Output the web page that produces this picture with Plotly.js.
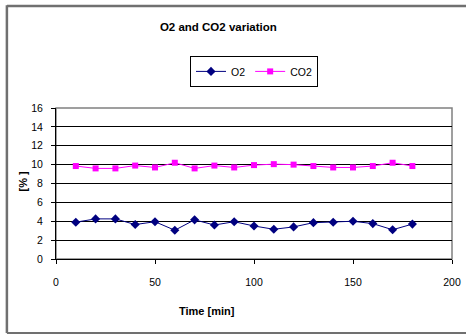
<!DOCTYPE html>
<html>
<head>
<meta charset="utf-8">
<script src="https://cdn.plot.ly/plotly-3.0.1.min.js"></script>
<style>html,body{margin:0;padding:0;background:#fff;}#chart{width:466px;height:335px;}</style>
</head>
<body>
<div id="chart"></div>
<script>
const timeMin = [10, 20, 30, 40, 50, 60, 70, 80, 90, 100, 110, 120, 130, 140, 150, 160, 170, 180];
const o2 = [3.9, 4.25, 4.25, 3.65, 3.95, 3.05, 4.15, 3.6, 3.95, 3.5, 3.15, 3.4, 3.85, 3.9, 4.0, 3.75, 3.1, 3.7];
const co2 = [9.85, 9.6, 9.6, 9.9, 9.7, 10.2, 9.6, 9.9, 9.7, 9.95, 10.05, 10.0, 9.85, 9.7, 9.7, 9.85, 10.2, 9.85];
const seriesNames = ['O2', 'CO2'];
const xTicks = [0, 50, 100, 150, 200];
const yTicks = [0, 2, 4, 6, 8, 10, 12, 14, 16];

const font = 'Liberation Sans, Arial, sans-serif';
const narrow = 'Liberation Sans Narrow, Arial Narrow, Liberation Sans, sans-serif';
const traces = [
  {x: timeMin, y: o2, name: seriesNames[0], type: 'scatter', mode: 'lines+markers',
   line: {color: '#000080', width: 1}, marker: {symbol: 'diamond', size: 7, color: '#000080'}},
  {x: timeMin, y: co2, name: seriesNames[1], type: 'scatter', mode: 'lines+markers',
   line: {color: '#FF00FF', width: 1}, marker: {symbol: 'square', size: 6, color: '#FF00FF'}}
];
const layout = {
  width: 466, height: 335,
  margin: {l: 56, r: 14, t: 108, b: 76},
  paper_bgcolor: '#fff', plot_bgcolor: '#fff',
  font: {family: narrow, size: 10.5, color: '#000'},
  title: {text: 'O2 and CO2 variation', font: {family: font, size: 11.5, weight: 'bold', color: '#000'},
          xref: 'paper', x: 0.41, xanchor: 'center', yref: 'container', y: 0.919, yanchor: 'middle'},
  showlegend: true,
  legend: {orientation: 'h', x: 0.5, xanchor: 'center', y: 1.345, yanchor: 'top',
           bordercolor: '#000', borderwidth: 1, bgcolor: '#fff', font: {family: narrow, size: 10.5},
           itemwidth: 30, tracegroupgap: 0},
  xaxis: {range: [0, 200], tickvals: xTicks, ticktext: xTicks.map(String), showgrid: false, zeroline: false,
          showline: true, linecolor: '#000', linewidth: 1, ticks: 'outside', ticklen: 4, tickcolor: '#000',
          ticklabelstandoff: 9, tickfont: {family: narrow, size: 10.5}},
  yaxis: {range: [0, 16], tickvals: yTicks, ticktext: yTicks.map(String), showgrid: true, gridcolor: '#000', gridwidth: 1,
          zeroline: false, showline: true, linecolor: '#000', linewidth: 1, ticks: 'outside', ticklen: 4, tickcolor: '#000',
          ticklabelstandoff: 6, tickfont: {family: narrow, size: 10.5}},
  shapes: [
    {type: 'rect', xref: 'paper', yref: 'paper', x0: 0, x1: 1, y0: 0, y1: 1, line: {color: '#808080', width: 1.5}, layer: 'below'},
    {type: 'line', xref: 'paper', yref: 'paper', x0: -0.124, x1: 1.1, y0: 1.676, y1: 1.676, line: {color: '#707070', width: 2.5}},
    {type: 'line', xref: 'paper', yref: 'paper', x0: -0.124, x1: -0.124, y0: 1.68, y1: -0.49, line: {color: '#707070', width: 2.5}},
    {type: 'line', xref: 'paper', yref: 'paper', x0: -0.124, x1: 1.1, y0: -0.49, y1: -0.49, line: {color: '#707070', width: 2}}
  ],
  annotations: [
    {text: 'Time [min]', xref: 'paper', yref: 'paper', x: 0.381, y: -0.344, showarrow: false,
     xanchor: 'center', yanchor: 'middle', font: {family: font, size: 11, weight: 'bold'}},
    {text: '[% ]', xref: 'paper', yref: 'paper', x: -0.081, y: 0.52, showarrow: false, textangle: -90,
     xanchor: 'center', yanchor: 'middle', font: {family: font, size: 11, weight: 'bold'}}
  ]
};
Plotly.newPlot('chart', traces, layout, {displayModeBar: false, staticPlot: true});
</script>
</body>
</html>
